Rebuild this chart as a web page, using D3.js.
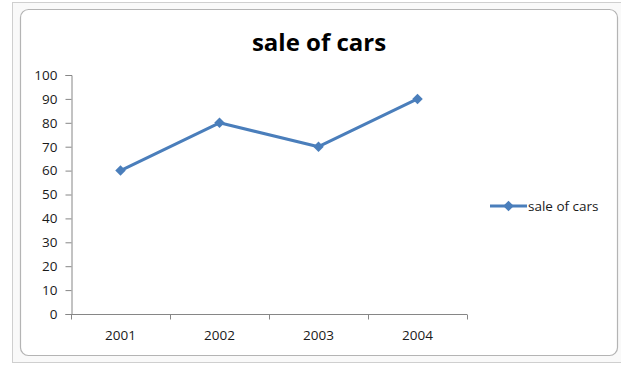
<!DOCTYPE html>
<html>
<head>
<meta charset="utf-8">
<script src="https://cdn.jsdelivr.net/npm/d3@7"></script>
<style>
  html, body { margin: 0; padding: 0; background: #fff; }
  svg { display: block; }
  text { font-family: "Open Sans", Lato, sans-serif; }
</style>
</head>
<body>
<svg id="chart" width="621" height="372"></svg>
<script>
// Yearly car sales
const years = ["2001", "2002", "2003", "2004"];
const sales = [60, 80, 70, 90];
const seriesName = "sale of cars";
const chartTitle = "sale of cars";
const yTicks = [0, 10, 20, 30, 40, 50, 60, 70, 80, 90, 100];

const svg = d3.select("#chart");
const blue = "#4a7ebb";
const font = "'Open Sans', Lato, sans-serif";
const labelSize = 13.5;

// Chart-area frame: light outer band plus rounded inner border
svg.append("rect").attr("x", 12.5).attr("y", 2.5).attr("width", 612).attr("height", 360)
  .attr("fill", "#f9f9f9").attr("stroke", "#cfcfcf");
svg.append("rect").attr("x", 20.5).attr("y", 9.5).attr("width", 597).attr("height", 346)
  .attr("rx", 8).attr("fill", "#fff").attr("stroke", "#b4b4b4").attr("stroke-width", 1.2);

// Title
svg.append("text").attr("x", 319).attr("y", 51).attr("text-anchor", "middle")
  .attr("font-size", 24).attr("font-weight", "bold").attr("fill", "#000")
  .text(chartTitle);

// Scales
const x = d3.scaleBand().domain(years).range([71, 467]);
const y = d3.scaleLinear().domain([0, 100]).range([314, 75]);

// Y axis
const yAxis = svg.append("g").attr("transform", "translate(71.5,0)")
  .call(d3.axisLeft(y).tickValues(yTicks).tickSize(6).tickPadding(8));
yAxis.select(".domain").attr("stroke", "#868686");
yAxis.selectAll(".tick line").attr("stroke", "#868686");
yAxis.selectAll(".tick text").attr("font-size", labelSize).attr("fill", "#1a1a1a")
  .style("font-family", font);

// X axis with tick marks at category boundaries
const xAxisG = svg.append("g").attr("transform", "translate(0,314.5)");
xAxisG.append("line").attr("x1", 71).attr("x2", 467).attr("stroke", "#868686");
const bounds = years.map(d => x(d)).concat([x(years[years.length - 1]) + x.bandwidth()]);
xAxisG.selectAll("line.tk").data(bounds).join("line").attr("class", "tk")
  .attr("x1", d => Math.round(d) + 0.5).attr("x2", d => Math.round(d) + 0.5)
  .attr("y1", 0).attr("y2", 5).attr("stroke", "#868686");
xAxisG.selectAll("text").data(years).join("text")
  .attr("x", d => x(d) + x.bandwidth() / 2).attr("y", 25)
  .attr("text-anchor", "middle").attr("font-size", labelSize).attr("fill", "#1a1a1a")
  .text(d => d);

// Series line
const pts = years.map((d, i) => [x(d) + x.bandwidth() / 2, y(sales[i])]);
svg.append("path").attr("d", d3.line()(pts)).attr("fill", "none")
  .attr("stroke", blue).attr("stroke-width", 3).attr("stroke-linejoin", "round");

const diamond = d3.symbol().type(d3.symbolDiamond2).size(70);
svg.selectAll("path.mk").data(pts).join("path").attr("class", "mk")
  .attr("transform", d => `translate(${d[0]},${d[1]})`)
  .attr("d", diamond).attr("fill", blue);

// Legend
const lg = svg.append("g").attr("transform", "translate(490,206)");
lg.append("line").attr("x1", 0).attr("x2", 37).attr("stroke", blue).attr("stroke-width", 3);
lg.append("path").attr("transform", "translate(18.5,0)").attr("d", diamond).attr("fill", blue);
lg.append("text").attr("x", 38).attr("y", 5).attr("font-size", labelSize).attr("fill", "#1a1a1a")
  .text(seriesName);
</script>
</body>
</html>
